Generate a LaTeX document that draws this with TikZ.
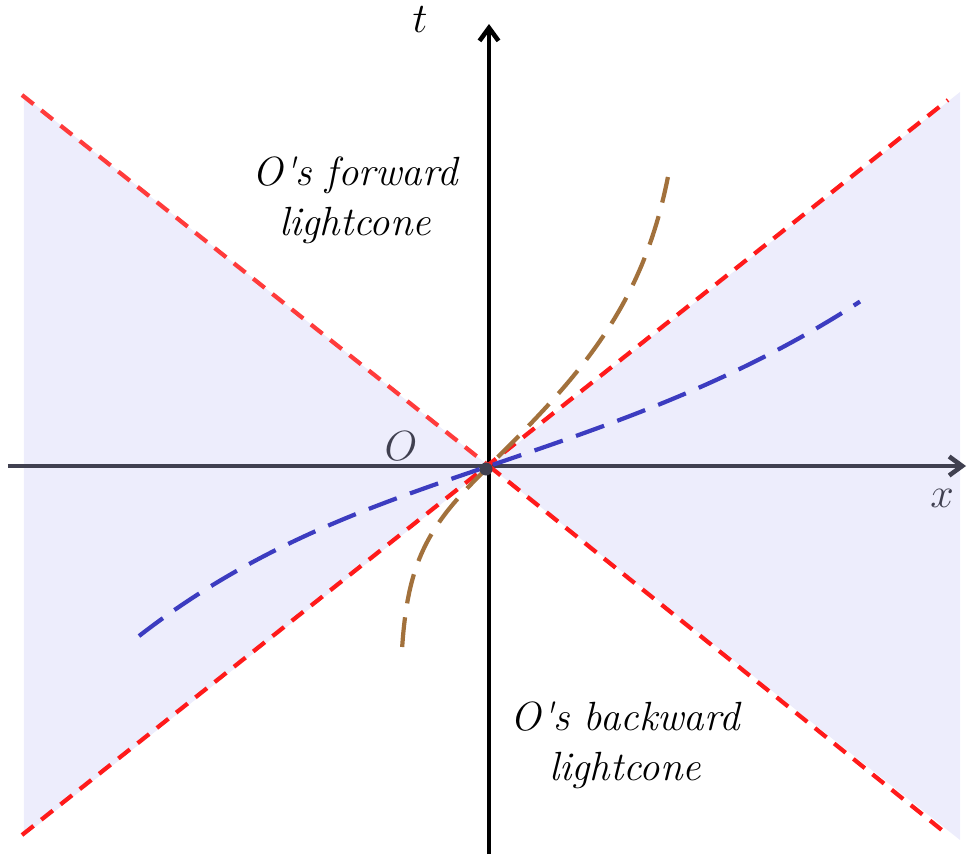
\documentclass[tikz,border=0pt]{standalone}
\usepackage{amsmath,amssymb}
\usepackage{tikz}
\usetikzlibrary{arrows.meta}
\usepackage{xcolor}
\definecolor{conefill}{HTML}{EDEDFC}
\definecolor{lightred}{HTML}{FF1A1A}
\definecolor{axisgray}{HTML}{404050}
\definecolor{slowbrown}{HTML}{A2713C}
\definecolor{fastblue}{HTML}{3C3CC0}

\begin{document}
\begin{tikzpicture}[
  axis/.style={line width=1.3pt,-{Straight Barb[length=1.3mm,width=1.9mm,line width=1.3pt]}},
  lightline/.style={lightred,line width=1.2pt,dash pattern=on 4.2pt off 2.8pt},
  worldline/.style={line width=1.2pt,dash pattern=on 8.5pt off 4pt},
  lbl/.style={font=\fontsize{11.6}{14.2}\selectfont\itshape,align=center}]
\useasboundingbox (-4.89,-3.88) rectangle (4.79,4.66);
% spacelike regions
\fill[conefill] (0,0) -- (4.71,3.74) -- (4.71,-3.74) -- cycle;
\fill[conefill] (0,0) -- (-4.65,3.70) -- (-4.65,-3.70) -- cycle;
% axes
\draw[axis,axisgray] (-4.81,0) -- (4.77,0);
\draw[axis,black] (0,-3.88) -- (0,4.42);
\node (t) at (-0.69,4.46) {\fontsize{13}{15}\selectfont$t$};
\node[axisgray] (x) at (4.53,-0.32) {\fontsize{13}{15}\selectfont$x$};
\node[axisgray] (o) at (-0.88,0.20) {\fontsize{13}{15}\selectfont$O$};
% light lines
\draw[lightline,color=lightred!80!pink] (-4.67,3.71) -- (0,0);
\draw[lightline] (0,0) -- (4.59,-3.69);
\draw[lightline] (-4.67,-3.69) -- (4.59,3.66);
% world lines
\draw[worldline,slowbrown] plot[domain=-1.81:0,samples=40,variable=\t] ({0.9*tanh(\t/0.9)},\t)
  -- plot[domain=0:2.89,samples=50,variable=\t] ({2*tanh(\t/2)},\t);
\draw[worldline,fastblue] plot[domain=-3.5:0,samples=50] (\x,{0.34*\x+0.0119*\x*\x*\x})
  -- plot[domain=0:3.71,samples=50] (\x,{0.34*\x+0.0075*\x*\x*\x});
\fill[axisgray] (-0.03,-0.03) circle (0.065);
% labels
\node[lbl] (fwd) at (-1.34,2.66) {O\textquotesingle s forward\\lightcone};
\node[lbl] (bwd) at (1.36,-2.79) {O\textquotesingle s backward\\lightcone};
\end{tikzpicture}
\end{document}
